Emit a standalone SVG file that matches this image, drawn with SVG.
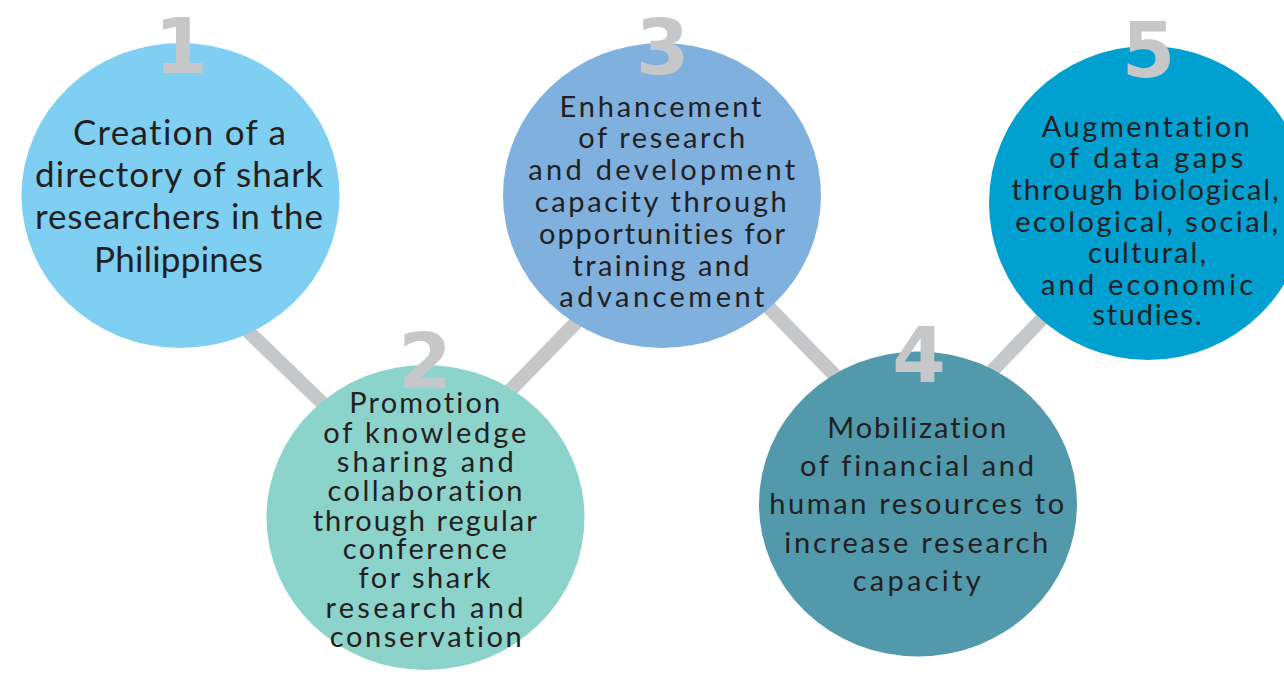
<svg xmlns="http://www.w3.org/2000/svg" width="1284" height="677" viewBox="0 0 1284 677">
  <style>
    .link { stroke: #c6c7c9; stroke-width: 14; stroke-linecap: butt; fill: none; }
    .num { font-family: "DejaVu Sans", "Liberation Sans", sans-serif; font-weight: bold; font-size: 77px; fill: #c6c7c9; text-anchor: middle; }
    .lbl { font-family: Lato, "Liberation Sans", sans-serif; font-size: 29px; fill: #231f20; text-anchor: middle; font-variant-ligatures: none; }
    .big { font-size: 35px; }
  </style>
  <rect width="1284" height="677" fill="#ffffff"/>

  <!-- connectors between the steps -->
  <g id="connectors">
    <line class="link" x1="225" y1="309" x2="345" y2="425"/>
    <line class="link" x1="495" y1="406" x2="595" y2="303"/>
    <line class="link" x1="750" y1="288" x2="850" y2="391"/>
    <line class="link" x1="975" y1="389" x2="1060" y2="300"/>
  </g>

  <g id="step1">
    <ellipse cx="180.5" cy="195.5" rx="159" ry="152.5" fill="#7ecff2"/>
    <text class="num" x="181" y="73">1</text>
    <text class="lbl big" x="179.5" y="145" textLength="213" lengthAdjust="spacing">Creation of a</text>
    <text class="lbl big" x="179" y="187" textLength="288" lengthAdjust="spacing">directory of shark</text>
    <text class="lbl big" x="179" y="229" textLength="288" lengthAdjust="spacing">researchers in the</text>
    <text class="lbl big" x="178.5" y="272" textLength="169" lengthAdjust="spacing">Philippines</text>
  </g>

  <g id="step2">
    <ellipse cx="425.5" cy="517.5" rx="159" ry="152.5" fill="#8cd3cc"/>
    <text class="num" x="425" y="388">2</text>
    <text class="lbl" x="424.7" y="413" textLength="151" lengthAdjust="spacing">Promotion</text>
    <text class="lbl" x="424.7" y="443" textLength="203" lengthAdjust="spacing">of knowledge</text>
    <text class="lbl" x="425.3" y="472" textLength="177" lengthAdjust="spacing">sharing and</text>
    <text class="lbl" x="425" y="500.5" textLength="195" lengthAdjust="spacing">collaboration</text>
    <text class="lbl" x="424.7" y="530.5" textLength="224" lengthAdjust="spacing">through regular</text>
    <text class="lbl" x="424.7" y="559.3" textLength="164" lengthAdjust="spacing">conference</text>
    <text class="lbl" x="424.5" y="588.3" textLength="132" lengthAdjust="spacing">for shark</text>
    <text class="lbl" x="424.5" y="618.3" textLength="198" lengthAdjust="spacing">research and</text>
    <text class="lbl" x="425.8" y="647.3" textLength="192" lengthAdjust="spacing">conservation</text>
  </g>

  <g id="step3">
    <ellipse cx="662" cy="195.5" rx="159" ry="152.5" fill="#7fb0de"/>
    <text class="num" x="662.5" y="74">3</text>
    <text class="lbl" x="660.5" y="116.7" textLength="202" lengthAdjust="spacing">Enhancement</text>
    <text class="lbl" x="661.7" y="148.3" textLength="167" lengthAdjust="spacing">of research</text>
    <text class="lbl" x="661.7" y="180" textLength="267" lengthAdjust="spacing">and development</text>
    <text class="lbl" x="660.8" y="211.7" textLength="252" lengthAdjust="spacing">capacity through</text>
    <text class="lbl" x="662" y="244" textLength="246" lengthAdjust="spacing">opportunities for</text>
    <text class="lbl" x="661" y="276" textLength="177" lengthAdjust="spacing">training and</text>
    <text class="lbl" x="661.8" y="306.7" textLength="205" lengthAdjust="spacing">advancement</text>
  </g>

  <g id="step4">
    <ellipse cx="918" cy="504" rx="159" ry="152.5" fill="#5199ab"/>
    <text class="num" x="919" y="382">4</text>
    <text class="lbl" x="916.7" y="438" textLength="179" lengthAdjust="spacing">Mobilization</text>
    <text class="lbl" x="917" y="476" textLength="234" lengthAdjust="spacing">of financial and</text>
    <text class="lbl" x="916.7" y="513.5" textLength="295" lengthAdjust="spacing">human resources to</text>
    <text class="lbl" x="916.3" y="553" textLength="264" lengthAdjust="spacing">increase research</text>
    <text class="lbl" x="916.7" y="591" textLength="128" lengthAdjust="spacing">capacity</text>
  </g>

  <g id="step5">
    <ellipse cx="1148" cy="203" rx="159" ry="157" fill="#00a0d0"/>
    <text class="num" x="1148.5" y="77">5</text>
    <text class="lbl" x="1145.8" y="137.3" textLength="208" lengthAdjust="spacing">Augmentation</text>
    <text class="lbl" x="1146.3" y="168.3" textLength="194" lengthAdjust="spacing">of data gaps</text>
    <text class="lbl" x="1145" y="200" textLength="267" lengthAdjust="spacing">through biological,</text>
    <text class="lbl" x="1146.7" y="231.7" textLength="263" lengthAdjust="spacing">ecological, social,</text>
    <text class="lbl" x="1147" y="262.7" textLength="118" lengthAdjust="spacing">cultural,</text>
    <text class="lbl" x="1147" y="295" textLength="212" lengthAdjust="spacing">and economic</text>
    <text class="lbl" x="1147" y="325" textLength="109" lengthAdjust="spacing">studies.</text>
  </g>
</svg>
